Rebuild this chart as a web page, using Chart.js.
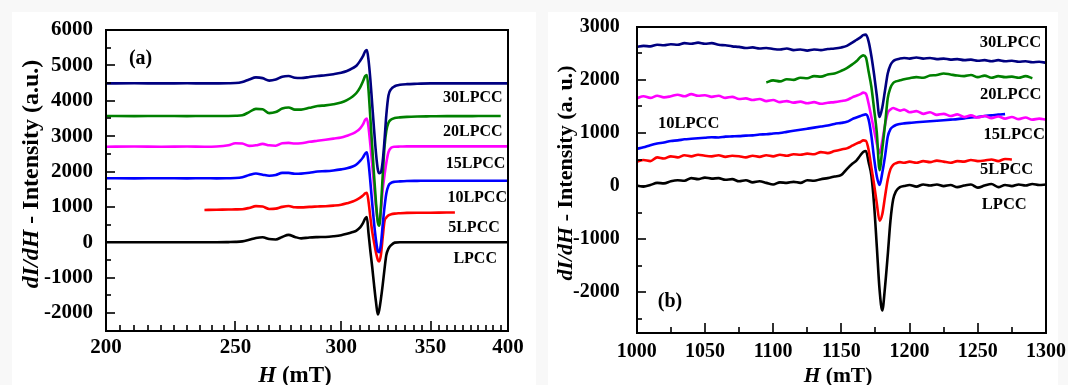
<!DOCTYPE html>
<html>
<head>
<meta charset="utf-8">
<script src="https://cdn.jsdelivr.net/npm/chart.js@4.4.1/dist/chart.umd.min.js"></script>
<style>
  html, body { margin: 0; padding: 0; background: #f8f8f8; }
  #wrap { position: relative; width: 1068px; height: 385px; overflow: hidden; }
  .sheet { position: absolute; background: #ffffff; }
  canvas { position: absolute; top: 0; }
</style>
</head>
<body>
<div id="wrap">
  <div class="sheet" style="left:12px;top:12px;width:524px;height:373px"></div>
  <div class="sheet" style="left:548px;top:12px;width:510px;height:373px"></div>
  <canvas id="chartA" width="540" height="385" style="left:0"></canvas>
  <canvas id="chartB" width="528" height="385" style="left:540px"></canvas>
</div>
<script>
// ---- Panel (a): X band, field H (mT) on a log axis ----
const A_FIELD = [200, 210, 220, 230, 237, 242, 247, 250, 253, 256,
  259, 262, 265, 268, 271, 274, 277, 280, 284, 288,
  292, 296, 300, 303, 306, 308, 310, 311.5, 312.7, 313.6,
  314.5, 315.5, 316.5, 317.5, 318.6, 319.6, 320.4, 321.3, 322.3, 323.3,
  324.3, 325.5, 327, 329, 332, 336, 342, 350, 360, 365,
  370, 380, 390, 395, 400];

const A_LPCC = [0, 0, 0, 0, 0, 0, 5, 10, 25, 70,
  120, 140, 90, 80, 150, 210, 150, 110, 135, 145,
  150, 170, 200, 240, 290, 330, 420, 540, 670, 715,
  250, -250, -700, -1200, -1700, -2040, -1900, -1600, -1200, -750,
  -360, -180, -80, -10, 0, 0, 0, 0, 0, 0,
  0, 0, 0, 0, 0];

const A_5LPCC = [null, null, null, null, 912, 920, 925, 930, 935, 970,
  1020, 1010, 940, 950, 1000, 1025, 990, 985, 1000, 1010,
  1020, 1035, 1060, 1100, 1150, 1200, 1260, 1320, 1380, 1400,
  1150, 700, 300, 0, -300, -500, -540, -350, 150, 600,
  700, 760, 790, 810, 820, 830, 835, 835, 840, 840,
  null, null, null, null, null];

const A_10LPCC = [1810, 1805, 1810, 1805, 1810, 1805, 1810, 1815, 1840, 1900,
  1945, 1910, 1880, 1900, 1960, 1960, 1935, 1940, 1965, 2000,
  2010, 2030, 2060, 2090, 2140, 2200, 2300, 2400, 2510, 2540,
  2250, 1700, 1100, 550, 50, -250, -280, -50, 500, 1000,
  1380, 1600, 1680, 1710, 1720, 1730, 1735, 1740, 1740, 1740,
  1740, 1740, 1740, 1740, 1740];

const A_15LPCC = [2700, 2705, 2700, 2705, 2700, 2705, 2740, 2800, 2790, 2725,
  2740, 2780, 2740, 2730, 2800, 2810, 2790, 2800, 2840, 2870,
  2900, 2930, 2960, 3010, 3070, 3130, 3220, 3330, 3460, 3500,
  3250, 2750, 2200, 1600, 1000, 600, 520, 900, 1500, 1900,
  2250, 2550, 2670, 2700, 2705, 2710, 2710, 2710, 2710, 2710,
  2710, 2710, 2710, 2710, 2710];

const A_20LPCC = [3570, 3565, 3570, 3565, 3570, 3568, 3570, 3575, 3590, 3680,
  3770, 3760, 3650, 3680, 3780, 3810, 3750, 3750, 3800, 3850,
  3870, 3900, 3950, 4020, 4120, 4220, 4380, 4550, 4700, 4730,
  4300, 3500, 2700, 1900, 1100, 560, 470, 1000, 1900, 2700,
  3150, 3380, 3470, 3510, 3530, 3545, 3555, 3560, 3565, 3565,
  3565, 3568, 3570, 3570, null];

const A_30LPCC = [4490, 4495, 4490, 4495, 4490, 4492, 4495, 4500, 4530, 4600,
  4660, 4640, 4570, 4600, 4680, 4700, 4650, 4645, 4670, 4700,
  4720, 4750, 4790, 4840, 4920, 4990, 5130, 5260, 5400, 5430,
  5150, 4600, 3900, 3200, 2500, 2050, 1950, 1980, 2300, 2900,
  3600, 4150, 4330, 4410, 4450, 4470, 4480, 4490, 4490, 4490,
  4492, 4490, 4492, 4490, 4490];

const A_X_TICKS = [200, 250, 300, 350, 400];
const A_Y_TICKS = [-2000, -1000, 0, 1000, 2000, 3000, 4000, 5000, 6000];

// ---- Panel (b): Q band, field H (mT) on a linear axis ----
const B_FIELD = [1000, 1005, 1010, 1015, 1020, 1025, 1030, 1035, 1040, 1045,
  1050, 1055, 1060, 1065, 1070, 1075, 1080, 1085, 1090, 1095,
  1100, 1105, 1110, 1115, 1120, 1125, 1130, 1135, 1140, 1145,
  1150, 1154, 1158, 1161, 1164, 1166, 1168, 1170, 1172, 1174,
  1176, 1178, 1180, 1182, 1184, 1186, 1188, 1190, 1193, 1196,
  1200, 1205, 1210, 1215, 1220, 1225, 1230, 1235, 1240, 1245,
  1250, 1255, 1260, 1265, 1270, 1275, 1280, 1285, 1290, 1295, 1300];

const B_LPCC = [10, -10, 20, 60, 50, 90, 110, 100, 150, 130,
  160, 140, 150, 120, 130, 90, 110, 70, 90, 60,
  30, 70, 60, 80, 60, 110, 100, 130, 150, 180,
  210, 320, 420, 480, 580, 640, 660, 450, 200, -350,
  -1140, -1950, -2340, -1900, -1300, -650, -250, -100, -20, 0,
  20, -10, 30, 10, 30, 0, 20, -20, 10, 30,
  -30, 10, 40, -20, 20, 0, 30, 10, 40, 20, 30];

const B_5LPCC = [460, 490, 470, 540, 520, 560, 540, 580, 560, 590,
  570, 560, 580, 550, 570, 560, 540, 570, 550, 580,
  560, 590, 570, 600, 590, 610, 600, 640, 620, 660,
  690, 710, 760, 800, 830, 860, 850, 680, 350, 30,
  -330, -650, -530, -200, 120, 320, 400, 430, 450, 440,
  460, 440, 470, 450, 480, 460, 440, 470, 460, 490,
  470, 480, 500, 470, 510, 500, null, null, null, null, null];

const B_10LPCC = [700, 730, 770, 800, 820, 850, 860, 880, 890, 900,
  910, 920, 915, 930, 935, 940, 950, 955, 970, 975,
  990, 1000, 1020, 1040, 1060, 1080, 1100, 1120, 1140, 1170,
  1190, 1210, 1260, 1290, 1320, 1340, 1350, 1250, 950, 520,
  180, 20, 250, 560, 930, 1070, 1120, 1150, 1170, 1180,
  1190, 1200, 1210, 1220, 1230, 1240, 1250, 1260, 1275, 1290,
  1300, 1320, 1330, 1345, 1355, null, null, null, null, null, null];

const B_15LPCC = [1650, 1690, 1660, 1700, 1670, 1690, 1720, 1690, 1730, 1700,
  1710, 1680, 1700, 1660, 1680, 1640, 1650, 1620, 1640, 1600,
  1620, 1580, 1600, 1570, 1590, 1560, 1580, 1550, 1570, 1580,
  1600, 1620, 1670, 1700, 1730, 1760, 1740, 1550, 1300, 1050,
  800, 620, 850, 1150, 1380, 1440, 1470, 1450, 1420, 1440,
  1390, 1410, 1360, 1390, 1340, 1360, 1320, 1350, 1300, 1330,
  1290, 1320, 1280, 1310, 1270, 1300, 1260, 1290, 1250, 1270, 1250];

const B_20LPCC = [null, null, null, null, null, null, null, null, null, null,
  null, null, null, null, null, null, null, null, null, 1950,
  1990, 1970, 2010, 2000, 2040, 2030, 2070, 2060, 2100, 2120,
  2170, 2220, 2290, 2350, 2430, 2460, 2420, 2150, 1870, 1450,
  1000, 300, 700, 1150, 1650, 1850, 1940, 1970, 1990, 2010,
  2030, 2050, 2040, 2080, 2090, 2120, 2100, 2080, 2070, 2090,
  2050, 2080, 2040, 2070, 2050, 2060, 2040, 2070, 2030, null, null];

const B_30LPCC = [2620, 2640, 2630, 2660, 2650, 2670, 2660, 2690, 2680, 2700,
  2680, 2690, 2660, 2650, 2630, 2620, 2600, 2610, 2590, 2600,
  2580, 2570, 2590, 2560, 2570, 2550, 2570, 2560, 2580, 2590,
  2610, 2640, 2700, 2750, 2800, 2840, 2850, 2720, 2450, 2100,
  1700, 1300, 1480, 1800, 2120, 2280, 2350, 2380, 2400, 2410,
  2400, 2420, 2400, 2410, 2390, 2400, 2380, 2390, 2370, 2380,
  2360, 2370, 2350, 2370, 2350, 2360, 2340, 2350, 2330, 2340, 2320];

const B_X_TICKS = [1000, 1050, 1100, 1150, 1200, 1250, 1300];
const B_Y_TICKS = [-2000, -1000, 0, 1000, 2000, 3000];

const SAMPLE_NAMES = ['LPCC', '5LPCC', '10LPCC', '15LPCC', '20LPCC', '30LPCC'];

// where each sample name is written, in axis units [H, dI/dH]
const A_NAME_AT = [[378, -482], [377.2, 394], [379.3, 1242], [378.3, 2212], [376.4, 3125], [376.4, 4069]];
const B_NAME_AT = [[1269.4, -358], [1271.2, 314], [1038.1, 1181], [1276.7, 960], [1274.2, 1714], [1274, 2699]];

// ---- styling ----
const SAMPLE_COLORS = ['#000000', '#ff0000', '#0000ff', '#ff00ff', '#008000', '#000080'];
const SERIF = "'Liberation Serif', 'Times New Roman', serif";

function buildDatasets(field, seriesList) {
  return seriesList.map((vals, i) => ({
    label: SAMPLE_NAMES[i],
    data: field.map((h, k) => ({ x: h, y: vals[k] })),
    borderColor: SAMPLE_COLORS[i],
    backgroundColor: SAMPLE_COLORS[i],
    borderWidth: 2.6,
    pointRadius: 0,
    fill: false,
    spanGaps: false,
    cubicInterpolationMode: 'monotone',
    order: seriesList.length - i
  }));
}

// frame, inward tick marks, axis titles and text labels
const decorations = {
  id: 'decorations',
  afterDraw(chart) {
    const o = chart.config.options.deco;
    const ctx = chart.ctx;
    const a = chart.chartArea;
    const xs = chart.scales.x, ys = chart.scales.y;
    const L = Math.round(a.left), R = Math.round(a.right);
    const T = Math.round(a.top), B = Math.round(a.bottom);
    ctx.save();
    ctx.fillStyle = '#000000';

    // inward ticks along the bottom edge
    for (let k = 0; k <= o.xMinorCount; k++) {
      const v = o.xFrom + k * o.xMinorStep;
      const px = Math.round(xs.getPixelForValue(v));
      const len = (k % o.xMajorEvery === 0) ? 10 : 6;
      ctx.fillRect(px - 0.8, B - len, 1.6, len);
    }
    // inward ticks along the left edge
    for (let k = 0; k <= o.yMinorCount; k++) {
      const v = o.yFrom + k * o.yMinorStep;
      const py = Math.round(ys.getPixelForValue(v));
      const len = (v % 1000 === 0) ? 9 : 5;
      ctx.fillRect(L, py - 0.8, len, 1.6);
    }

    // frame
    ctx.fillRect(L - 1, T - 1, R - L + 2, 2);
    ctx.fillRect(L - 1, B - 1, R - L + 2, 2);
    ctx.fillRect(L - 1, T - 1, 2, B - T + 2);
    ctx.fillRect(R - 1, T - 1, 2, B - T + 2);

    // sample names
    ctx.textAlign = 'center';
    ctx.textBaseline = 'middle';
    ctx.font = `bold ${o.nameSize}px ${SERIF}`;
    o.nameAt.forEach((p, i) => {
      ctx.fillText(SAMPLE_NAMES[i], xs.getPixelForValue(p[0]), ys.getPixelForValue(p[1]));
    });

    // panel letter
    ctx.font = `bold 20px ${SERIF}`;
    ctx.fillText(o.letter, xs.getPixelForValue(o.letterAt[0]), ys.getPixelForValue(o.letterAt[1]));

    // axis titles
    richText(ctx, o.yTitle, o.yTitleSize, o.yTitlePos[0], o.yTitlePos[1], true);
    richText(ctx, [{ t: 'H', i: true }, { t: ' (mT)', i: false }], o.xTitleSize, o.xTitlePos[0], o.xTitlePos[1], false);
    ctx.restore();
  }
};

function richText(ctx, parts, size, cx, cy, vertical) {
  ctx.save();
  ctx.translate(cx, cy);
  if (vertical) ctx.rotate(-Math.PI / 2);
  ctx.textAlign = 'left';
  ctx.textBaseline = 'middle';
  ctx.fillStyle = '#000';
  let total = 0;
  const widths = parts.map(p => {
    ctx.font = `${p.i ? 'italic ' : ''}bold ${size}px ${SERIF}`;
    const w = ctx.measureText(p.t).width;
    total += w;
    return w;
  });
  let x = -total / 2;
  parts.forEach((p, k) => {
    ctx.font = `${p.i ? 'italic ' : ''}bold ${size}px ${SERIF}`;
    ctx.fillText(p.t, x, 0);
    x += widths[k];
  });
  ctx.restore();
}

function axisTicks(list) {
  return scale => { scale.ticks = list.map(v => ({ value: v })); };
}

function makeChart(id, cfg) {
  return new Chart(document.getElementById(id), {
    type: 'line',
    data: { datasets: cfg.datasets },
    options: {
      responsive: false,
      devicePixelRatio: 1,
      animation: false,
      events: [],
      deco: cfg.deco,
      layout: { padding: cfg.padding },
      plugins: {
        legend: { display: false },
        tooltip: { enabled: false }
      },
      scales: {
        x: {
          type: cfg.xType,
          min: cfg.xMin,
          max: cfg.xMax,
          afterBuildTicks: axisTicks(cfg.xTicks),
          afterFit: s => { s.height = cfg.xAxisHeight; },
          grid: { display: false },
          border: { display: false },
          ticks: {
            autoSkip: false,
            maxRotation: 0,
            padding: cfg.xTickPad,
            color: '#000',
            font: { family: SERIF, size: cfg.tickSize, weight: 'bold', lineHeight: 1.2 },
            callback: v => String(v)
          }
        },
        y: {
          type: 'linear',
          min: cfg.yMin,
          max: cfg.yMax,
          afterBuildTicks: axisTicks(cfg.yTicks),
          afterFit: s => { s.width = cfg.yAxisWidth; },
          grid: { display: false },
          border: { display: false },
          ticks: {
            padding: cfg.yTickPad,
            color: '#000',
            font: { family: SERIF, size: cfg.tickSize, weight: 'bold', lineHeight: 1.2 },
            callback: v => String(v)
          }
        }
      }
    },
    plugins: [decorations]
  });
}

makeChart('chartA', {
  datasets: buildDatasets(A_FIELD, [A_LPCC, A_5LPCC, A_10LPCC, A_15LPCC, A_20LPCC, A_30LPCC]),
  padding: { left: 0, right: 32, top: 30, bottom: 0 },
  xType: 'logarithmic', xMin: 200, xMax: 400, xTicks: A_X_TICKS,
  yMin: -2500, yMax: 6000, yTicks: A_Y_TICKS,
  xAxisHeight: 54.3, yAxisWidth: 106, xTickPad: -4, yTickPad: 5, tickSize: 21,
  deco: {
    xFrom: 200, xMinorStep: 5, xMinorCount: 40, xMajorEvery: 10,
    yFrom: -2500, yMinorStep: 500, yMinorCount: 17,
    nameAt: A_NAME_AT, nameSize: 16,
    letter: '(a)', letterAt: [212.3, 5172],
    yTitle: [{ t: 'dI/dH', i: true }, { t: ' - Intensity (a.u.)', i: false }],
    yTitleSize: 24, yTitlePos: [32, 174],
    xTitleSize: 23, xTitlePos: [295, 376.5]
  }
});

makeChart('chartB', {
  datasets: buildDatasets(B_FIELD, [B_LPCC, B_5LPCC, B_10LPCC, B_15LPCC, B_20LPCC, B_30LPCC]),
  padding: { left: 0, right: 22, top: 26.7, bottom: 0 },
  xType: 'linear', xMin: 1000, xMax: 1300, xTicks: B_X_TICKS,
  yMin: -2760, yMax: 3000, yTicks: B_Y_TICKS,
  xAxisHeight: 52.3, yAxisWidth: 96.7, xTickPad: -1, yTickPad: 9, tickSize: 20,
  deco: {
    xFrom: 1000, xMinorStep: 25, xMinorCount: 12, xMajorEvery: 2,
    yFrom: -2500, yMinorStep: 500, yMinorCount: 11,
    nameAt: B_NAME_AT, nameSize: 16.5,
    letter: '(b)', letterAt: [1024.4, -2179],
    yTitle: [{ t: 'dI/dH', i: true }, { t: ' - Intensity (a. u.)', i: false }],
    yTitleSize: 22, yTitlePos: [26, 173],
    xTitleSize: 21.5, xTitlePos: [298, 376.5]
  }
});
</script>
</body>
</html>
